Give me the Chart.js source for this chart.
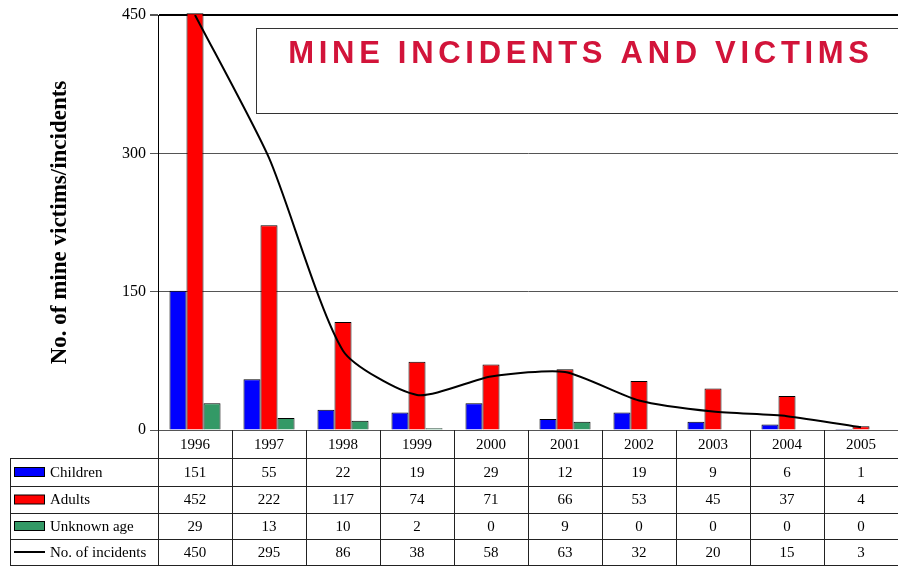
<!DOCTYPE html>
<html>
<head>
<meta charset="utf-8">
<script src="https://cdn.jsdelivr.net/npm/chart.js@4/dist/chart.umd.min.js"></script>
<style>
  html, body { margin: 0; padding: 0; background: #fff; }
  #wrap { width: 898px; height: 566px; }
</style>
</head>
<body>
<div id="wrap"><canvas id="mineChart" width="898" height="566"></canvas></div>
<script>
// data
const years = ['1996', '1997', '1998', '1999', '2000', '2001', '2002', '2003', '2004', '2005'];
const children = [151, 55, 22, 19, 29, 12, 19, 9, 6, 1];
const adults = [452, 222, 117, 74, 71, 66, 53, 45, 37, 4];
const unknownAge = [29, 13, 10, 2, 0, 9, 0, 0, 0, 0];
const incidents = [450, 295, 86, 38, 58, 63, 32, 20, 15, 3];
const yTicks = [0, 150, 300, 450];

const serif = '"Liberation Serif", "Times New Roman", serif';
const rowHeights = [28, 28, 27, 26, 26]; // header + 4 rows

// table rows (label, data, colour, kind)
const tableRows = [
    { label: 'Children', data: children, color: '#0000ff', kind: 'box' },
    { label: 'Adults', data: adults, color: '#ff0000', kind: 'box' },
    { label: 'Unknown age', data: unknownAge, color: '#339966', kind: 'box' },
    { label: 'No. of incidents', data: incidents, color: '#000000', kind: 'line' }
];

// title box inside plot area
const titleBoxPlugin = {
    id: 'titleBox',
    beforeDatasetsDraw(chart) {
        const ctx = chart.ctx;
        ctx.save();
        ctx.fillStyle = '#fff';
        ctx.strokeStyle = '#333';
        ctx.lineWidth = 1;
        ctx.fillRect(256.5, 28.5, 700, 85);
        ctx.strokeRect(256.5, 28.5, 700, 85);
        ctx.fillStyle = '#d2143a';
        ctx.font = 'bold 31px "Liberation Sans", Arial, sans-serif';
        ctx.textAlign = 'center';
        ctx.textBaseline = 'middle';
        if ('letterSpacing' in ctx) ctx.letterSpacing = '4.7px';
        ctx.fillText('MINE INCIDENTS AND VICTIMS', 581, 54);
        ctx.restore();
    }
};

// data table under the x axis
const dataTablePlugin = {
    id: 'dataTable',
    afterDraw(chart) {
        const ctx = chart.ctx;
        const x = chart.scales.x;
        const top = chart.chartArea.bottom;
        const half = (x.getPixelForValue(1) - x.getPixelForValue(0)) / 2;
        const right = chart.width;
        const ys = [top];
        rowHeights.forEach(h => ys.push(ys[ys.length - 1] + h));
        const bottom = Math.min(ys[ys.length - 1], chart.height - 1);

        ctx.save();
        ctx.strokeStyle = '#222';
        ctx.lineWidth = 1;
        ctx.beginPath();
        // vertical separators
        for (let i = 0; i <= years.length; i++) {
            const px = Math.round(x.getPixelForValue(i) - half) + 0.5;
            ctx.moveTo(px, top);
            ctx.lineTo(px, bottom);
        }
        ctx.moveTo(10.5, ys[1]);
        ctx.lineTo(10.5, bottom);
        // horizontal lines
        for (let r = 1; r < ys.length; r++) {
            const py = Math.min(Math.round(ys[r]), chart.height - 1) + 0.5;
            ctx.moveTo(10, py);
            ctx.lineTo(right, py);
        }
        ctx.stroke();

        ctx.font = '15px ' + serif;
        ctx.textBaseline = 'middle';
        tableRows.forEach((row, r) => {
            const cy = (ys[r + 1] + ys[r + 2]) / 2;
            // legend key
            if (row.kind === 'box') {
                ctx.fillStyle = row.color;
                ctx.fillRect(14.5, cy - 4.5, 30, 9);
                ctx.strokeStyle = '#000';
                ctx.strokeRect(14.5, cy - 4.5, 30, 9);
            } else {
                ctx.strokeStyle = row.color;
                ctx.lineWidth = 2;
                ctx.beginPath();
                ctx.moveTo(14, cy);
                ctx.lineTo(45, cy);
                ctx.stroke();
                ctx.lineWidth = 1;
            }
            ctx.fillStyle = '#000';
            ctx.textAlign = 'left';
            ctx.fillText(row.label, 50, cy + 1);
            ctx.textAlign = 'center';
            row.data.forEach((v, i) => {
                ctx.fillText(String(v), x.getPixelForValue(i), cy + 1);
            });
        });
        ctx.restore();
    }
};

const ctx = document.getElementById('mineChart');
new Chart(ctx.getContext('2d'), {
    data: {
        labels: years,
        datasets: [
            {
                type: 'line',
                label: 'No. of incidents',
                data: incidents,
                borderColor: '#000',
                borderWidth: 2,
                pointRadius: 0,
                tension: 0.22,
                fill: false,
                order: 0
            },
            {
                type: 'bar',
                label: 'Children',
                data: children,
                backgroundColor: '#0000ff',
                borderColor: '#000',
                borderWidth: 1,
                order: 1
            },
            {
                type: 'bar',
                label: 'Adults',
                data: adults,
                backgroundColor: '#ff0000',
                borderColor: '#000',
                borderWidth: 1,
                clip: false,
                order: 1
            },
            {
                type: 'bar',
                label: 'Unknown age',
                data: unknownAge,
                backgroundColor: '#339966',
                borderColor: '#000',
                borderWidth: 1,
                order: 1
            }
        ]
    },
    options: {
        responsive: false,
        animation: false,
        layout: { padding: { top: 15, right: -9, bottom: 108, left: 0 } },
        datasets: {
            bar: { categoryPercentage: 0.69, barPercentage: 1 }
        },
        plugins: {
            legend: { display: false },
            tooltip: { enabled: false },
            title: { display: false }
        },
        scales: {
            x: {
                grid: { display: false },
                border: { display: false },
                ticks: {
                    color: '#000',
                    font: { family: serif, size: 15 },
                    padding: -2,
                    maxRotation: 0
                },
                afterFit(scale) { scale.height = 28; }
            },
            y: {
                min: 0,
                max: 450,
                afterBuildTicks(scale) {
                    scale.ticks = yTicks.map(v => ({ value: v }));
                },
                grid: {
                    color: c => (c.tick && c.tick.value === 450 ? '#000' : '#555'),
                    lineWidth: c => (c.tick && c.tick.value === 450 ? 2 : 1),
                    tickLength: 8,
                    tickColor: '#555'
                },
                border: { color: '#000', width: 1 },
                ticks: {
                    color: '#000',
                    font: { family: serif, size: 16 },
                    padding: 4
                },
                title: {
                    display: true,
                    text: 'No. of mine victims/incidents',
                    color: '#000',
                    font: { family: serif, size: 23, weight: 'bold' },
                    padding: { top: 46, bottom: 0 }
                },
                afterFit(scale) { scale.width = 158; }
            }
        }
    },
    plugins: [titleBoxPlugin, dataTablePlugin]
});
</script>
</body>
</html>
